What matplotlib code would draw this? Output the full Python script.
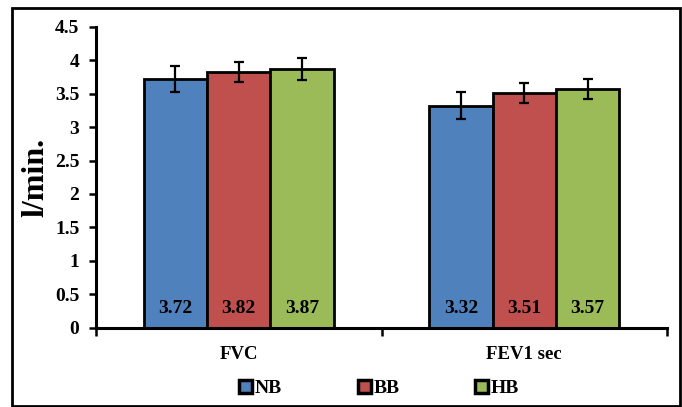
import numpy as np
import matplotlib.pyplot as plt
from matplotlib.patches import Rectangle

# Lung function values per group
categories = ["FVC", "FEV1 sec"]
groups = ["NB", "BB", "HB"]
values = {
    "NB": [3.72, 3.32],
    "BB": [3.82, 3.51],
    "HB": [3.87, 3.57],
}
errors = {
    "NB": [0.20, 0.20],
    "BB": [0.15, 0.15],
    "HB": [0.16, 0.15],
}
colors = {"NB": "#4f81bd", "BB": "#c0504d", "HB": "#9bbb59"}
yticks = [0, 0.5, 1, 1.5, 2, 2.5, 3, 3.5, 4, 4.5]

plt.rcParams["font.family"] = ["Liberation Serif", "DejaVu Serif"]
plt.rcParams["font.weight"] = "bold"

fig = plt.figure(figsize=(6.82, 4.07), dpi=100)
ax = fig.add_axes([0.1408, 0.195, 0.978 - 0.1408, 0.934 - 0.195])

x = np.arange(len(categories))
width = 0.222
for i, g in enumerate(groups):
    pos = x + (i - 1) * width
    ax.bar(pos, values[g], width, color=colors[g], edgecolor="black",
           linewidth=2, label=g, zorder=2)
    ax.errorbar(pos, values[g], yerr=errors[g], fmt="none", ecolor="black",
                elinewidth=1.6, capsize=3.5, capthick=1.6, zorder=3)
    for p, v in zip(pos, values[g]):
        ax.text(p, 0.28, f"{v:.2f}", ha="center", va="center",
                fontsize=14, fontweight="bold", zorder=4)

ax.set_xlim(-0.5, len(categories) - 0.5)
ax.set_ylim(0, 4.5)
ax.set_yticks(yticks)
ax.set_yticklabels([f"{t:g}" for t in yticks], fontsize=14, fontweight="bold")
ax.set_xticks(x)
ax.set_xticklabels(categories, fontsize=13.5, fontweight="bold")
ax.set_xticks([-0.5, 0.5, 1.5], minor=True)
ax.tick_params(axis="x", which="major", length=0, pad=13)
ax.tick_params(axis="x", which="minor", length=6, width=1.8, direction="out")
ax.tick_params(axis="y", length=5, width=1.8, direction="out", pad=7)
ax.set_ylabel("l/min.", fontsize=23, fontweight="bold", labelpad=3)

for s in ["top", "right"]:
    ax.spines[s].set_visible(False)
for s in ["left", "bottom"]:
    ax.spines[s].set_linewidth(2.2)

leg = ax.legend(loc="upper center", bbox_to_anchor=(0.496, -0.115), ncol=3,
                frameon=False, handlelength=0.65, handleheight=0.65,
                handletextpad=0.15, columnspacing=3.9,
                prop={"weight": "bold", "size": 14})
for h in leg.legend_handles:
    h.set_linewidth(2.5)

fig.patches.append(Rectangle((12 / 682, 1 / 407), 668 / 682, 398 / 407,
                             transform=fig.transFigure, fill=False,
                             edgecolor="black", linewidth=2))

fig.savefig("out.png", dpi=100)
